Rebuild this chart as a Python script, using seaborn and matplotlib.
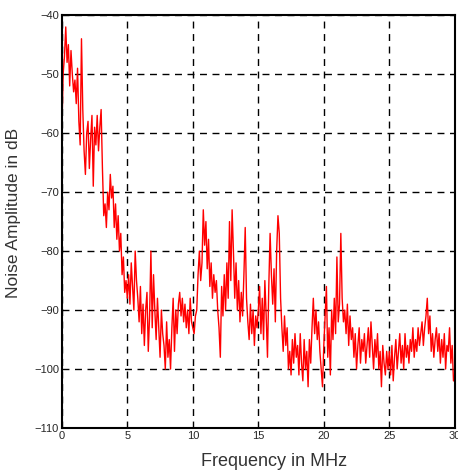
import numpy as np
import pandas as pd
import seaborn as sns
import matplotlib.pyplot as plt

# Noise amplitude (dB), one value every 0.1 MHz
amp_0_5 = [-60, -50, -47, -42, -48, -45, -52, -46, -50, -53,
           -51, -55, -49, -58, -62, -44, -56, -63, -67, -60,
           -58, -66, -61, -57, -69, -59, -62, -57, -63, -59,
           -56, -66, -74, -72, -76, -70, -73, -67, -71, -69,
           -76, -72, -78, -74, -80, -77, -84, -81, -87, -85]
amp_5_10 = [-88, -84, -89, -82, -86, -90, -80, -85, -88, -92,
            -86, -94, -89, -96, -90, -87, -97, -91, -80, -93,
            -84, -90, -95, -88, -93, -98, -90, -94, -96, -100,
            -92, -98, -95, -100, -93, -88, -97, -90, -94, -89,
            -87, -91, -88, -92, -89, -93, -90, -94, -88, -92]
amp_10_15 = [-93, -94, -91, -90, -84, -80, -85, -82, -73, -79,
             -75, -83, -78, -86, -82, -88, -84, -87, -85, -90,
             -93, -98, -86, -91, -84, -90, -82, -88, -75, -85,
             -73, -80, -88, -82, -90, -85, -92, -87, -91, -84,
             -76, -88, -92, -95, -89, -94, -90, -96, -91, -93]
amp_15_20 = [-90, -86, -94, -88, -95, -85, -91, -98, -86, -77,
             -84, -89, -83, -92, -80, -74, -77, -88, -93, -97,
             -91, -96, -93, -100, -97, -101, -95, -99, -94, -98,
             -96, -101, -94, -99, -102, -95, -100, -97, -103, -95,
             -99, -93, -88, -94, -90, -95, -92, -97, -100, -103]
amp_20_25 = [-96, -91, -86, -98, -93, -101, -90, -95, -88, -94,
             -81, -92, -89, -77, -88, -92, -90, -94, -89, -96,
             -91, -95, -93, -98, -94, -100, -96, -93, -99, -95,
             -97, -94, -99, -96, -93, -98, -92, -96, -100, -95,
             -98, -94, -100, -97, -103, -96, -99, -101, -97, -100]
amp_25_30 = [-97, -101, -96, -102, -98, -95, -100, -97, -94, -99,
             -96, -100, -94, -98, -96, -99, -95, -97, -93, -98,
             -95, -97, -93, -96, -94, -92, -96, -93, -91, -88,
             -94, -91, -97, -94, -98, -95, -93, -97, -94, -99,
             -95, -98, -94, -100, -96, -97, -93, -99, -96, -102, -102]

amplitude = amp_0_5 + amp_5_10 + amp_10_15 + amp_15_20 + amp_20_25 + amp_25_30
frequency = np.linspace(0, 30, len(amplitude))
df = pd.DataFrame({'freq': frequency, 'amp': amplitude})

sns.set_style('white')
plt.rcParams['font.family'] = ['Liberation Sans', 'DejaVu Sans']

fig = plt.figure(figsize=(4.58, 4.74), dpi=100)
ax = fig.add_axes([0.135, 0.097, 0.858, 0.871])

sns.lineplot(data=df, x='freq', y='amp', color='red', linewidth=1.0, ax=ax)

ax.set_xlim(0, 30)
ax.set_ylim(-110, -40)
ax.set_xticks(range(0, 31, 5))
ax.set_yticks(range(-110, -39, 10))
ax.grid(True, color='black', linestyle=(0, (5, 4)), linewidth=1.0)
ax.tick_params(axis='both', labelsize=8, direction='in', length=4, color='black', pad=2)
for spine in ax.spines.values():
    spine.set_color('black')
    spine.set_linewidth(1.5)

ax.set_xlabel('Frequency in MHz', fontsize=13, color='#333333')
ax.set_ylabel('Noise Amplitude in dB', fontsize=12.5, color='#333333')
ax.xaxis.set_label_coords(0.54, -0.06)
ax.yaxis.set_label_coords(-0.105, 0.52)

fig.savefig('out.png', dpi=100)
